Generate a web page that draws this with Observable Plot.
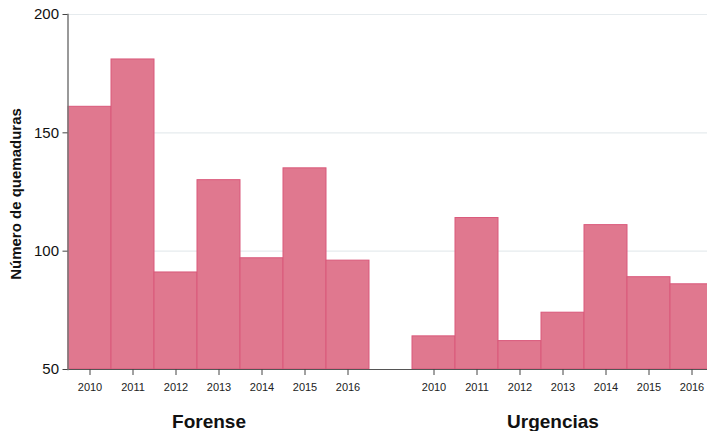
<!DOCTYPE html>
<html>
<head>
<meta charset="utf-8">
<script src="https://cdn.jsdelivr.net/npm/d3@7"></script>
<script src="https://cdn.jsdelivr.net/npm/@observablehq/plot@0.6"></script>
<style>
  body { margin: 0; background: #fff; }
  svg { font-family: "Liberation Sans", Arial, sans-serif; }
</style>
</head>
<body>
<div id="chart"></div>
<script>
const years = ["2010","2011","2012","2013","2014","2015","2016"];
const groups = ["Forense", "Urgencias"];
const forense = [161, 181, 91, 130, 97, 135, 96];
const urgencias = [64, 114, 62, 74, 111, 89, 86];
const yTicks = [50, 100, 150, 200];

const data = [
  ...years.map((y, i) => ({key: "F" + y, year: y, group: groups[0], value: forense[i]})),
  ...years.map((y, i) => ({key: "U" + y, year: y, group: groups[1], value: urgencias[i]}))
];
const domain = [...years.map(y => "F" + y), "gap", ...years.map(y => "U" + y)];
const groupLabels = [
  {key: "F2013", label: groups[0]},
  {key: "U2013", label: groups[1]}
];

const chart = Plot.plot({
  width: 707,
  height: 431,
  marginTop: 14,
  marginLeft: 67.5,
  marginRight: -5.5,
  marginBottom: 62,
  x: {type: "band", domain, paddingInner: 0, paddingOuter: 0, axis: null},
  y: {domain: [50, 200], axis: null},
  marks: [
    Plot.gridY([100, 150, 200], {stroke: "#e6ebee", strokeOpacity: 1, strokeWidth: 1.2}),
    Plot.barY(data, {x: "key", y1: 50, y2: "value", fill: "#e0788f", stroke: "#d9587a", strokeWidth: 1, inset: 0}),
    Plot.ruleY([50], {stroke: "#555", strokeWidth: 1.2}),
    Plot.frame({anchor: "left", stroke: "#777", strokeWidth: 1.5}),
    Plot.axisY(yTicks, {tickSize: 5, tickPadding: 4, fontSize: 15, stroke: "#444", fill: "#111", label: null}),
    Plot.axisX(domain.filter(d => d !== "gap"), {
      tickSize: 6, tickPadding: 8, fontSize: 11, stroke: "#444", fill: "#222",
      tickFormat: d => d.slice(1), label: null
    }),
    Plot.text(groupLabels, {x: "key", text: "label", frameAnchor: "bottom", dy: 58, dx: -10,
      fontSize: 19, fontWeight: "bold", fill: "#111"}),
    Plot.text(["Número de quemaduras"], {frameAnchor: "left", textAnchor: "middle", rotate: -90, dx: -52, dy: 2,
      fontSize: 15, fontWeight: "bold", fill: "#111"})
  ]
});
document.getElementById("chart").appendChild(chart);
</script>
</body>
</html>
